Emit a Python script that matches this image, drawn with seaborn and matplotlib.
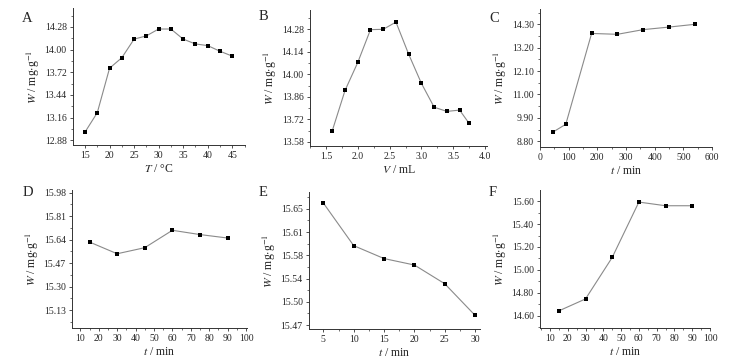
import pandas as pd
import matplotlib
matplotlib.use("Agg")
import matplotlib.pyplot as plt
import seaborn as sns
from matplotlib.ticker import AutoMinorLocator, FormatStrFormatter

# data
temp_c = [15, 17.5, 20, 22.5, 25, 27.5, 30, 32.5, 35, 37.5, 40, 42.5, 45]
w_temp = [12.98, 13.22, 13.77, 13.90, 14.13, 14.17, 14.255, 14.255, 14.13, 14.07, 14.05, 13.98, 13.92]

vol_ml = [1.6, 1.8, 2.0, 2.2, 2.4, 2.6, 2.8, 3.0, 3.2, 3.4, 3.6, 3.75]
w_vol = [13.65, 13.90, 14.074, 14.278, 14.28, 14.325, 14.125, 13.944, 13.796, 13.77, 13.778, 13.695]

time_c = [45, 90, 180, 270, 360, 450, 540]
w_time_c = [9.23, 9.60, 13.87, 13.83, 14.05, 14.17, 14.30]

time_d = [15, 30, 45, 60, 75, 90]
w_time_d = [15.623, 15.538, 15.582, 15.708, 15.677, 15.652]

time_e = [5, 10, 15, 20, 25, 30]
w_time_e = [15.659, 15.593, 15.573, 15.563, 15.534, 15.485]

time_f = [15, 30, 45, 60, 75, 90]
w_time_f = [14.644, 14.748, 15.109, 15.591, 15.559, 15.559]

# tick values shown on each panel
yt_a = [12.88, 13.16, 13.44, 13.72, 14.00, 14.28]
xt_a = [15, 20, 25, 30, 35, 40, 45]
yt_b = [13.58, 13.72, 13.86, 14.00, 14.14, 14.28]
xt_b = [1.5, 2.0, 2.5, 3.0, 3.5, 4.0]
yt_c = [8.80, 9.90, 11.00, 12.10, 13.20, 14.30]
xt_c = [0, 100, 200, 300, 400, 500, 600]
yt_d = [15.13, 15.30, 15.47, 15.64, 15.81, 15.98]
xt_d = [10, 20, 30, 40, 50, 60, 70, 80, 90, 100]
yt_e = [15.47, 15.506, 15.542, 15.578, 15.614, 15.65]
yl_e = ["15.47", "15.50", "15.54", "15.58", "15.61", "15.65"]
xt_e = [5, 10, 15, 20, 25, 30]
yt_f = [14.60, 14.80, 15.00, 15.20, 15.40, 15.60]
xt_f = [10, 20, 30, 40, 50, 60, 70, 80, 90, 100]

sns.set_style("ticks")
plt.rcParams["font.family"] = ["Liberation Serif", "DejaVu Serif"]
plt.rcParams["mathtext.fontset"] = "stix"

W, H = 739, 364
fig = plt.figure(figsize=(W / 100, H / 100), dpi=100)

ylab = r"$W$ / mg$\cdot$g$^{-1}$"
panels = [
    # letter, x, y, xlabel, xticks, yticks, xlim, ylim, box(px: left, top, right, bottom), letter pos
    ("A", temp_c, w_temp, r"$T$ / °C", xt_a, yt_a, (12.55, 47.6), (12.82, 14.515), (73, 8, 245, 145), (22, 18)),
    ("B", vol_ml, w_vol, r"$V$ / mL", xt_b, yt_b, (1.25, 4.03), (13.555, 14.40), (310, 10, 487, 146), (259, 17)),
    ("C", time_c, w_time_c, r"$t$ / min", xt_c, yt_c, (0, 600), (8.53, 15.02), (540, 9, 712, 147), (489, 18)),
    ("D", time_d, w_time_d, r"$t$ / min", xt_d, yt_d, (5.5, 100.5), (15.0, 16.0), (72, 190, 247, 328), (23, 192)),
    ("E", time_e, w_time_e, r"$t$ / min", xt_e, yt_e, (2.64, 30.8), (15.464, 15.676), (309, 192, 480, 329), (259, 193)),
    ("F", time_f, w_time_f, r"$t$ / min", xt_f, yt_f, (4.4, 100), (14.495, 15.696), (540, 190, 710, 328), (489, 193)),
]

for letter, xs, ys, xlab, xt, yt, xl, yl, box, lpos in panels:
    l, t, r, b = box
    ax = fig.add_axes([l / W, 1 - b / H, (r - l) / W, (b - t) / H])
    df = pd.DataFrame({"x": xs, "y": ys})
    sns.lineplot(data=df, x="x", y="y", ax=ax, color="#8a8a8a", linewidth=0.8,
                 marker="s", markersize=3.2, markerfacecolor="black",
                 markeredgecolor="black", markeredgewidth=0)
    ax.set_xlim(*xl)
    ax.set_ylim(*yl)
    ax.set_xticks(xt)
    ax.set_yticks(yt)
    ax.yaxis.set_major_formatter(FormatStrFormatter("%.2f"))
    if letter == "E":
        ax.set_yticklabels(yl_e)
    if letter == "B":
        ax.xaxis.set_major_formatter(FormatStrFormatter("%.1f"))
    ax.xaxis.set_minor_locator(AutoMinorLocator(2))
    ax.yaxis.set_minor_locator(AutoMinorLocator(2))
    ax.tick_params(which="major", direction="out", length=2.5, width=0.6,
                   labelsize=7, pad=2, color="#333333")
    ax.tick_params(which="minor", direction="out", length=1.3, width=0.5, color="#333333")
    sns.despine(ax=ax)
    for s in ("left", "bottom"):
        ax.spines[s].set_linewidth(0.7)
        ax.spines[s].set_color("#333333")
    ax.set_xlabel(xlab, fontsize=8.5, labelpad=2)
    ax.set_ylabel(ylab, fontsize=8.5, labelpad=2)
    fig.text(lpos[0] / W, 1 - lpos[1] / H, letter, fontsize=10.5, va="center", ha="left")

fig.savefig("out.png", dpi=100)
